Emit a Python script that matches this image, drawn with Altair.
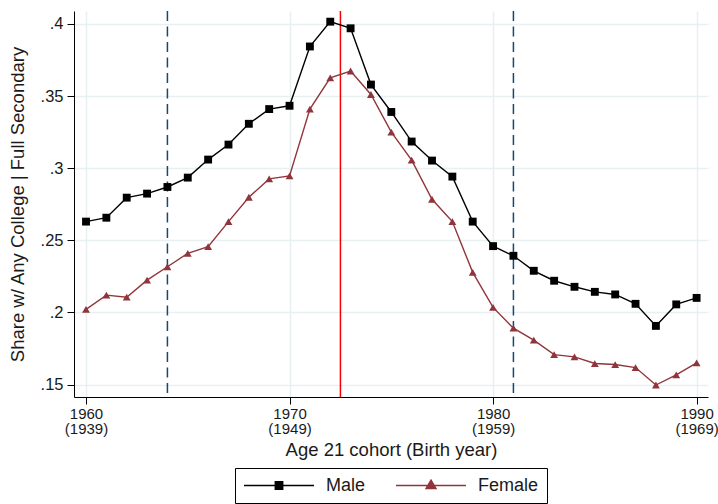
import altair as alt
import pandas as pd

years = list(range(1960, 1991))
male = [0.263, 0.2657, 0.2796, 0.2824, 0.287, 0.2935, 0.306, 0.3164, 0.3308, 0.341,
        0.3433, 0.3844, 0.4016, 0.397, 0.358, 0.339, 0.3185, 0.3053, 0.2942, 0.263,
        0.246, 0.2393, 0.2289, 0.222, 0.2178, 0.2143, 0.2125, 0.206, 0.1907, 0.2056, 0.2101]
female = [0.2021, 0.212, 0.2106, 0.2224, 0.2317, 0.241, 0.2456, 0.263, 0.2799, 0.2926,
          0.2947, 0.341, 0.3627, 0.3674, 0.3511, 0.325, 0.3056, 0.2785, 0.263, 0.2278,
          0.2035, 0.1891, 0.1808, 0.1708, 0.1692, 0.1646, 0.1639, 0.1618, 0.1497, 0.1567, 0.165]
groups = ["Male", "Female"]
group_colors = ["#000000", "#90353B"]
group_shapes = ["square", "triangle-up"]
cutoff_years = [1964, 1981]
reform_year = [1972.5]
x_ticks = [1960, 1970, 1980, 1990]
y_ticks = [0.15, 0.2, 0.25, 0.3, 0.35, 0.4]

n = len(years)
df = pd.DataFrame({
    "year": years * 2,
    "group": [groups[0]] * n + [groups[1]] * n,
    "share": male + female,
    "mshape": [group_shapes[0]] * n + [group_shapes[1]] * n,
    "mcolor": [group_colors[0]] * n + [group_colors[1]] * n,
})
cut_df = pd.DataFrame({"year": cutoff_years})
ref_df = pd.DataFrame({"year": reform_year})

FONT = "Liberation Sans"
TXT = "#1a1a1a"

x_scale = alt.Scale(domain=[1959.41, 1990.56], nice=False, zero=False)
y_scale = alt.Scale(domain=[0.1414, 0.409], nice=False, zero=False)

x_axis = alt.Axis(
    values=x_ticks, title="Age 21 cohort (Birth year)",
    labelExpr="[format(datum.value, 'd'), '(' + format(datum.value - 21, 'd') + ')']",
    labelFontSize=15, labelLineHeight=15, labelBaseline="top", labelPadding=2,
    labelFlush=False, labelOverlap=False, tickSize=7, tickColor="#000000",
    domainColor="#000000", domainWidth=1, grid=True, gridColor="#E8F0F2", gridWidth=1.5,
    titleFontSize=18.5, titleFontWeight="normal", titleX=317, titleY=58,
    titleBaseline="alphabetic", titleAlign="center",
)
y_axis = alt.Axis(
    values=y_ticks, title="Share w/ Any College | Full Secondary",
    labelExpr="substring(format(datum.value, '.2~f'), 1)",
    labelFontSize=16.5, labelPadding=4, labelAngle=0, tickSize=7, tickColor="#000000",
    domainColor="#000000", domainWidth=1, grid=True, gridColor="#E8F0F2", gridWidth=1.5,
    titleFontSize=18.5, titleFontWeight="normal", titleX=-57, titleY=193,
    titleAngle=-90, titleBaseline="middle", titleAlign="center",
)

male_path = "M-1,0H1M-0.105,-0.105H0.105V0.105H-0.105Z"
female_path = "M-1,0H1M0,-0.15L0.14,0.085L-0.14,0.085Z"

legend = alt.Legend(
    orient="none", legendX=161, legendY=457, direction="horizontal", title=None,
    strokeColor="#000000", fillColor="#ffffff", padding=8,
    symbolSize=4900, symbolStrokeWidth=1.5, clipHeight=19, symbolOpacity=1,
    symbolType=alt.ExprRef(expr=f"datum.value === 'Male' ? '{male_path}' : '{female_path}'"),
    symbolStrokeColor=alt.ExprRef(expr="scale('color', datum.value)"),
    symbolFillColor=alt.ExprRef(expr="scale('color', datum.value)"),
    labelFontSize=18, labelFont=FONT, labelColor=TXT, labelOffset=11, columnPadding=29,
)

cuts = alt.Chart(cut_df).mark_rule(color="#1A476F", strokeWidth=1.5, strokeDash=[10, 5.5]).encode(
    x=alt.X("year:Q", scale=x_scale, axis=x_axis)
)
ref = alt.Chart(ref_df).mark_rule(color="#FF0000", strokeWidth=1.5).encode(
    x=alt.X("year:Q", scale=x_scale)
)
lines = alt.Chart(df).mark_line(strokeWidth=1.4).encode(
    x=alt.X("year:Q", scale=x_scale),
    y=alt.Y("share:Q", scale=y_scale, axis=y_axis),
    color=alt.Color("group:N", scale=alt.Scale(domain=groups, range=group_colors), legend=legend),
    detail="group:N",
)
points = alt.Chart(df).mark_point(filled=True, opacity=1, size=62, strokeWidth=0).encode(
    x=alt.X("year:Q", scale=x_scale),
    y=alt.Y("share:Q", scale=y_scale),
    fill=alt.Fill("mcolor:N", scale=None),
    shape=alt.Shape("mshape:N", scale=None),
    detail="group:N",
)

chart = alt.layer(cuts, ref, lines, points).properties(
    width=634, height=386,
    autosize=alt.AutoSizeParams(type="none"),
    padding={"left": 74, "top": 11, "right": 10, "bottom": 107},
    background="white",
).configure_view(stroke=None).configure_axis(
    labelFont=FONT, titleFont=FONT, labelColor=TXT, titleColor=TXT
)

chart.save("out.html", embed_options={"renderer": "svg", "actions": False})
